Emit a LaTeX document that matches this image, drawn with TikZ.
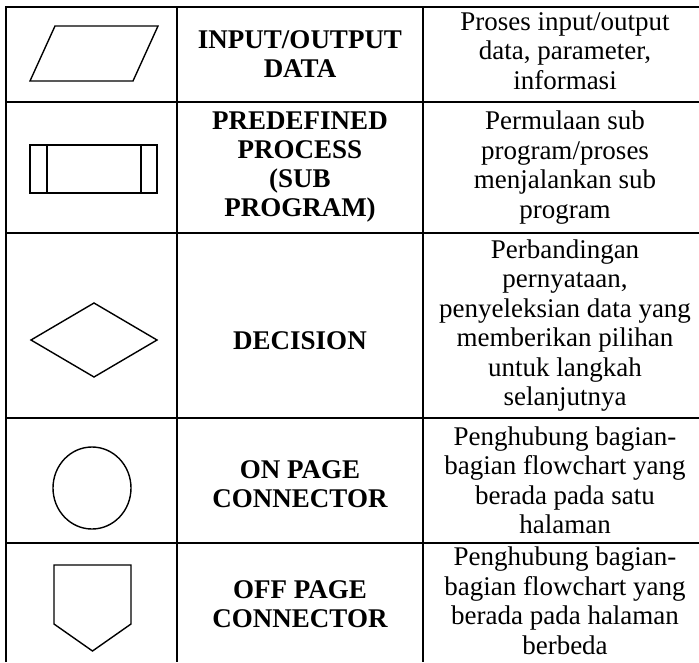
\documentclass[tikz,border=0pt]{standalone}
\usepackage{fontspec}
\setmainfont{Liberation Serif}
\begin{document}
\begin{tikzpicture}[x=1pt, y=-1pt, line width=1.7pt,
    hdr/.style={font=\fontsize{27}{29}\selectfont\bfseries, align=center, inner sep=0pt},
    txt/.style={font=\fontsize{27}{29.5}\selectfont, align=center, inner sep=0pt},
    sym/.style={line width=1.4pt}]
  \useasboundingbox (0,0) rectangle (699,662);
  % table lines
  \draw (6,662) -- (6,7) -- (699,7);
  \foreach \y in {102,233,418,543}
    \draw (6,\y) -- (699,\y);
  \foreach \x in {177,423}
    \draw (\x,7) -- (\x,662);

  % input/output data
  \draw[sym] (55,26) -- (158,26) -- (133,81) -- (30,81) -- cycle;
  \node[hdr] (io) at (300,54.5) {INPUT/OUTPUT\\DATA};
  \node[txt] (ioTxt) at (565,51) {Proses input/output\\data, parameter,\\informasi};

  % predefined process
  \draw[sym] (30,145) rectangle (157,193);
  \draw[sym] (47,145) -- (47,193);
  \draw[sym] (141,145) -- (141,193);
  \node[hdr] (sub) at (300,167.5) {PREDEFINED\\PROCESS\\(SUB\\PROGRAM)};
  \node[txt] (subTxt) at (565,167.5) {Permulaan sub\\program/proses\\menjalankan sub\\program};

  % decision
  \draw[sym] (31,340) -- (94,303) -- (157,340) -- (94,377) -- cycle;
  \node[hdr] (dec) at (300,341) {DECISION};
  \node[txt] (decTxt) at (565,325.5) {Perbandingan\\pernyataan,\\penyeleksian data yang\\memberikan pilihan\\untuk langkah\\selanjutnya};

  % on page connector
  \draw[sym] (92,488) ellipse (39 and 41);
  \node[hdr] (on) at (300,484) {ON PAGE\\CONNECTOR};
  \node[txt] (onTxt) at (565,480.5) {Penghubung bagian-\\bagian flowchart yang\\berada pada satu\\halaman};

  % off page connector
  \draw[sym] (54,565) -- (131,565) -- (131,624) -- (92.5,651) -- (54,624) -- cycle;
  \node[hdr] (off) at (300,604) {OFF PAGE\\CONNECTOR};
  \node[txt] (offTxt) at (565,601) {Penghubung bagian-\\bagian flowchart yang\\berada pada halaman\\berbeda};
\end{tikzpicture}
\end{document}
